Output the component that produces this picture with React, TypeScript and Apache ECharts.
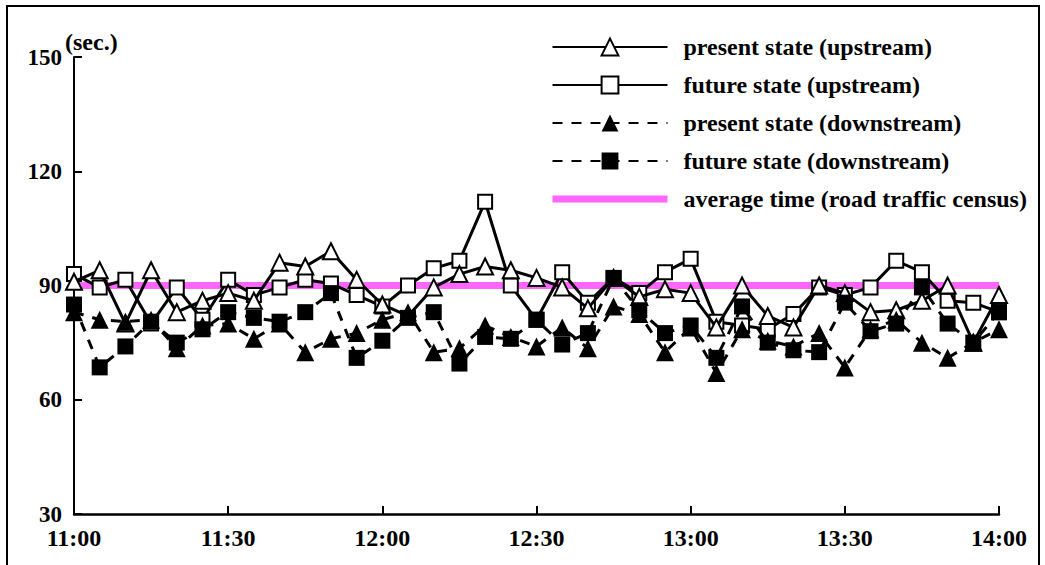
import React, { useEffect, useRef } from 'react';
import * as echarts from 'echarts';

const times = [
  '11:00', '11:05', '11:10', '11:15', '11:20', '11:25', '11:30', '11:35', '11:40', '11:45',
  '11:50', '11:55', '12:00', '12:05', '12:10', '12:15', '12:20', '12:25', '12:30', '12:35',
  '12:40', '12:45', '12:50', '12:55', '13:00', '13:05', '13:10', '13:15', '13:20', '13:25',
  '13:30', '13:35', '13:40', '13:45', '13:50', '13:55', '14:00',
];
const xTickLabels = ['11:00', '11:30', '12:00', '12:30', '13:00', '13:30', '14:00'];

const seriesNames = [
  'present state (upstream)',
  'future state (upstream)',
  'present state (downstream)',
  'future state (downstream)',
  'average time (road traffic census)',
];

const presentUp = [91, 94, 80, 94, 83, 86, 88, 86, 96, 95, 99, 91.5, 85, 82, 89.5, 93, 95, 94, 92, 89.5, 84, 92, 87, 89, 88, 79, 90, 82, 79, 90, 88, 83, 83.5, 86, 90, 75, 87.5];
const futureUp = [93, 89.5, 91.5, 80, 89.5, 81, 91.5, 87.5, 89.5, 91.5, 90.5, 87.5, 84.5, 90, 94.5, 96.5, 112, 90, 81, 93.5, 85.5, 92, 88, 93.5, 97, 80.5, 79.5, 78.5, 82.5, 89.5, 87.5, 89.5, 96.5, 93.5, 86, 85.5, 83];
const presentDown = [83, 81, 80.5, 81, 73.5, 79.5, 80, 76, 80, 72.5, 76, 77.5, 81, 83, 72.5, 73.5, 79.5, 76.5, 74, 79, 73.5, 84.5, 82.5, 72.5, 79, 67, 78.5, 75.5, 74, 77.5, 68.5, 78.5, 81, 75, 71, 75, 78.5];
const futureDown = [85, 68.5, 74, 80.5, 75, 78.5, 83, 81.5, 80.5, 83, 88, 71, 75.5, 81.5, 83, 69.5, 76.5, 76, 81, 74.5, 77.5, 92, 83.5, 77.5, 79.5, 71, 84.5, 75, 73, 72.5, 85.5, 78, 80, 89.5, 80, 75, 83];
const averageTime = 90;

const toMin = (t: string) => {
  const [h, m] = t.split(':').map(Number);
  return (h - 11) * 60 + m;
};

const FONT = '"Liberation Serif", "Times New Roman", serif';

export default function App() {
  const ref = useRef<HTMLDivElement>(null);
  useEffect(() => {
    if (!ref.current) return;
    const chart = echarts.init(ref.current, undefined, { renderer: 'svg' });
    const pts = (vals: number[]) => times.map((t, i) => [toMin(t), vals[i]]);
    const dash = [10, 9];
    const option: any = {
      animation: false,
      grid: { left: 74, right: 46, top: 57, bottom: 51 },
      xAxis: {
        type: 'value',
        min: 0,
        max: 180,
        interval: 30,
        axisLine: { show: true, lineStyle: { color: '#000', width: 2.5 } },
        axisTick: { show: true, inside: true, length: 8, lineStyle: { color: '#000', width: 2 } },
        splitLine: { show: false },
        axisLabel: {
          formatter: (v: number) => xTickLabels[Math.round(v / 30)] ?? '',
          color: '#000',
          fontFamily: FONT,
          fontWeight: 'bold',
          fontSize: 24,
          margin: 12,
        },
      },
      yAxis: {
        type: 'value',
        min: 30,
        max: 150,
        interval: 30,
        axisLine: { show: true, lineStyle: { color: '#000', width: 2 } },
        axisTick: { show: true, inside: true, length: 8, lineStyle: { color: '#000', width: 2 } },
        splitLine: { show: false },
        axisLabel: {
          color: '#000',
          fontFamily: FONT,
          fontWeight: 'bold',
          fontSize: 23,
          margin: 12,
        },
      },
      legend: {
        orient: 'vertical',
        left: 544,
        top: 30,
        itemWidth: 115,
        itemHeight: 21,
        itemGap: 14,
        textStyle: {
          color: '#000',
          fontFamily: FONT,
          fontWeight: 'bold',
          fontSize: 24,
          padding: [0, 0, 0, 11],
        },
        data: [
          { name: seriesNames[0] },
          { name: seriesNames[1] },
          { name: seriesNames[2] },
          { name: seriesNames[3] },
          { name: seriesNames[4], itemStyle: { color: 'transparent', borderWidth: 0, opacity: 0 }, lineStyle: { width: 7 } },
        ],
      },
      graphic: [
        {
          type: 'rect',
          silent: true,
          shape: { x: 7, y: 6, width: 1032, height: 600 },
          style: { fill: 'none', stroke: '#000', lineWidth: 2 },
        },
        {
          type: 'text',
          left: 65,
          top: 30,
          style: { text: '(sec.)', font: `bold 24px ${FONT}`, fill: '#000' },
        },
      ],
      series: [
        {
          name: seriesNames[4],
          type: 'line',
          data: [[toMin(times[0]), averageTime], [toMin(times[times.length - 1]), averageTime]],
          symbol: 'none',
          lineStyle: { color: '#FF66FF', width: 7 },
          itemStyle: { color: '#FF66FF' },
          z: 1,
          silent: true,
        },
        {
          name: seriesNames[1],
          type: 'line',
          data: pts(futureUp),
          symbol: 'rect',
          symbolSize: 14,
          itemStyle: { color: '#fff', borderColor: '#000', borderWidth: 2 },
          lineStyle: { color: '#000', width: 3 },
          z: 2,
        },
        {
          name: seriesNames[0],
          type: 'line',
          data: pts(presentUp),
          symbol: 'triangle',
          symbolSize: 16,
          itemStyle: { color: '#fff', borderColor: '#000', borderWidth: 2 },
          lineStyle: { color: '#000', width: 3 },
          z: 3,
        },
        {
          name: seriesNames[3],
          type: 'line',
          data: pts(futureDown),
          symbol: 'rect',
          symbolSize: 16,
          itemStyle: { color: '#000' },
          lineStyle: { color: '#000', width: 3, type: dash },
          z: 4,
        },
        {
          name: seriesNames[2],
          type: 'line',
          data: pts(presentDown),
          symbol: 'triangle',
          symbolSize: 18,
          itemStyle: { color: '#000' },
          lineStyle: { color: '#000', width: 3, type: dash },
          z: 5,
        },
      ],
    };
    chart.setOption(option);
    return () => chart.dispose();
  }, []);
  return (
    <div
      ref={ref}
      style={{ position: 'absolute', left: 0, top: 0, width: 1045, height: 565, background: '#fff' }}
    />
  );
}
